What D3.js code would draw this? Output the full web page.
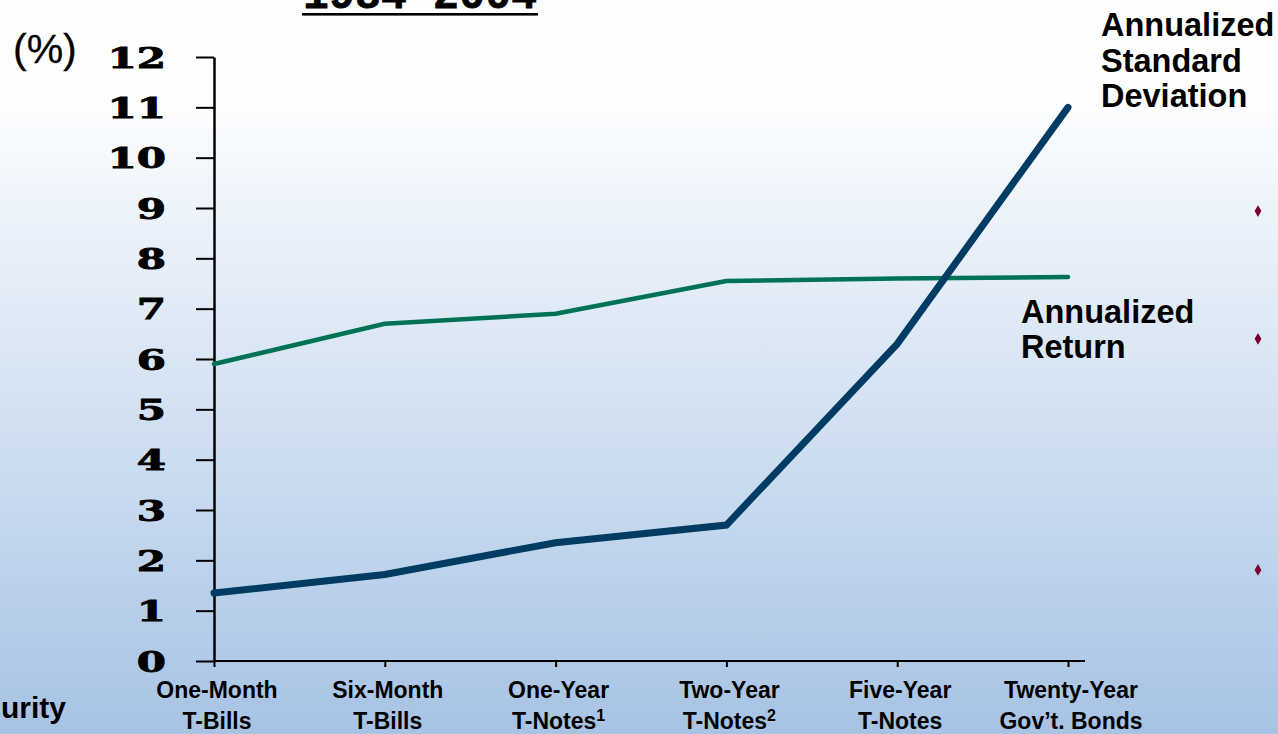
<!DOCTYPE html>
<html>
<head>
<meta charset="utf-8">
<script src="https://cdn.jsdelivr.net/npm/d3@7"></script>
<style>
  html, body { margin: 0; padding: 0; overflow: hidden; }
  svg { display: block; }
</style>
</head>
<body>
<script>
// Data
var categories = ["One-Month", "Six-Month", "One-Year", "Two-Year", "Five-Year", "Twenty-Year"];
var catLine2 = ["T-Bills", "T-Bills", "T-Notes", "T-Notes", "T-Notes", "Gov\u2019t. Bonds"];
var catSup = ["", "", "1", "2", "", ""];
var annualizedReturn = [5.9, 6.7, 6.9, 7.55, 7.6, 7.63];
var annualizedStdDev = [1.35, 1.72, 2.35, 2.7, 6.3, 11.0];
var yTicks = [0, 1, 2, 3, 4, 5, 6, 7, 8, 9, 10, 11, 12];
var bulletRows = [8.94, 6.4, 1.81]; // decorative slide bullets on the right, in axis units

var w = 1278, h = 734;

var svg = d3.select("body").append("svg")
    .attr("width", w)
    .attr("height", h);

// background gradient
var defs = svg.append("defs");
var grad = defs.append("linearGradient")
    .attr("id", "bg")
    .attr("x1", 0).attr("y1", 0).attr("x2", 0).attr("y2", 1);
grad.append("stop").attr("offset", "0").attr("stop-color", "#ffffff");
grad.append("stop").attr("offset", "0.14").attr("stop-color", "#fdfeff");
grad.append("stop").attr("offset", "0.3").attr("stop-color", "#ecf2fa");
grad.append("stop").attr("offset", "0.6").attr("stop-color", "#cfdff1");
grad.append("stop").attr("offset", "1").attr("stop-color", "#a7c3e4");
svg.append("rect")
    .attr("width", w).attr("height", h)
    .attr("fill", "url(#bg)");

// scales
var xScale = d3.scalePoint()
    .domain(categories)
    .range([214, 1068]);
var yScale = d3.scaleLinear()
    .domain([0, 12])
    .range([661, 57]);

// title (cut off at the top of the slide)
svg.append("text")
    .attr("x", 303).attr("y", 8)
    .attr("font-family", "Liberation Mono, DejaVu Sans Mono, monospace")
    .attr("font-weight", "bold")
    .attr("font-size", "43px")
    .attr("stroke", "#000").attr("stroke-width", 0.8)
    .attr("textLength", 234)
    .text("1984-2004");
svg.append("rect")
    .attr("x", 302).attr("y", 13)
    .attr("width", 236).attr("height", 2.6)
    .attr("fill", "#000");

// Y axis
var yAxis = d3.axisLeft(yScale)
    .tickValues(yTicks)
    .tickSize(18)
    .tickSizeOuter(0);
var gy = svg.append("g")
    .attr("transform", "translate(214,0)")
    .call(yAxis);
gy.select(".domain").attr("stroke", "#000").attr("stroke-width", 2.5);
gy.selectAll(".tick line").attr("stroke", "#000").attr("stroke-width", 2);
gy.selectAll(".tick text")
    .attr("x", 0)
    .attr("dy", null)
    .attr("y", 10)
    .attr("transform", "translate(-48,0) scale(1.5,1)")
    .attr("font-family", "DejaVu Serif, serif")
    .attr("font-weight", "bold")
    .attr("font-size", "28px")
    .attr("stroke", "#000").attr("stroke-width", 0.9)
    .attr("fill", "#000");

// X axis
var xAxis = d3.axisBottom(xScale)
    .tickSize(6)
    .tickSizeOuter(0)
    .tickFormat("");
var gx = svg.append("g")
    .attr("transform", "translate(0," + yScale(0) + ")")
    .call(xAxis);
gx.select(".domain")
    .attr("d", "M" + xScale(categories[0]) + ",0H1085")
    .attr("stroke", "#000").attr("stroke-width", 2.2);
gx.selectAll(".tick line").attr("stroke", "#000").attr("stroke-width", 2);

// category labels, two lines
var labels = svg.append("g")
    .attr("font-family", "Liberation Sans, Arial, sans-serif")
    .attr("font-weight", "bold")
    .attr("font-size", "23px")
    .attr("fill", "#000")
    .attr("text-anchor", "middle");
labels.selectAll("text.l1")
    .data(categories)
    .enter().append("text")
    .attr("class", "l1")
    .attr("x", function (d) { return xScale(d) + 3; })
    .attr("y", 698)
    .text(function (d) { return d; });
var l2 = labels.selectAll("text.l2")
    .data(categories)
    .enter().append("text")
    .attr("class", "l2")
    .attr("x", function (d) { return xScale(d) + 3; })
    .attr("y", 729);
l2.append("tspan")
    .text(function (d, i) { return catLine2[i]; });
l2.append("tspan")
    .attr("dy", -8)
    .attr("font-size", "16px")
    .text(function (d, i) { return catSup[i]; });

// lines
var line = function (vals) {
    return d3.line()
        .x(function (d, i) { return xScale(categories[i]); })
        .y(function (d) { return yScale(d); })(vals);
};
svg.append("path")
    .attr("d", line(annualizedReturn))
    .attr("fill", "none")
    .attr("stroke", "#007256")
    .attr("stroke-width", 4.5)
    .attr("stroke-linecap", "round")
    .attr("stroke-linejoin", "round");
svg.append("path")
    .attr("d", line(annualizedStdDev))
    .attr("fill", "none")
    .attr("stroke", "#003c64")
    .attr("stroke-width", 7)
    .attr("stroke-linecap", "round")
    .attr("stroke-linejoin", "miter");

// series labels
var sdLabel = svg.append("text")
    .attr("font-family", "Liberation Sans, Arial, sans-serif")
    .attr("font-weight", "bold")
    .attr("font-size", "32.5px")
    .attr("fill", "#000");
["Annualized", "Standard", "Deviation"].forEach(function (t, i) {
    sdLabel.append("tspan").attr("x", 1101).attr("y", 36 + i * 35.5).text(t);
});
var retLabel = svg.append("text")
    .attr("font-family", "Liberation Sans, Arial, sans-serif")
    .attr("font-weight", "bold")
    .attr("font-size", "32.5px")
    .attr("fill", "#000");
["Annualized", "Return"].forEach(function (t, i) {
    retLabel.append("tspan").attr("x", 1021).attr("y", 323 + i * 35).text(t);
});

// (%) unit label
svg.append("text")
    .attr("x", 13).attr("y", 63)
    .attr("font-family", "Liberation Sans, Arial, sans-serif")
    .attr("font-size", "41px")
    .attr("stroke", "#000").attr("stroke-width", 0.3)
    .attr("fill", "#000")
    .text("(%)");

// axis title, cut off at the left edge
svg.append("text")
    .attr("x", 66).attr("y", 718)
    .attr("text-anchor", "end")
    .attr("font-family", "Liberation Sans, Arial, sans-serif")
    .attr("font-weight", "bold")
    .attr("font-size", "30px")
    .attr("fill", "#000")
    .text("Security");

// slide bullets at the right edge
svg.selectAll("path.bullet")
    .data(bulletRows)
    .enter().append("path")
    .attr("class", "bullet")
    .attr("transform", function (d) { return "translate(1258," + yScale(d) + ")"; })
    .attr("d", d3.symbol().type(d3.symbolDiamond).size(40))
    .attr("fill", "#7a0030");
</script>
</body>
</html>
